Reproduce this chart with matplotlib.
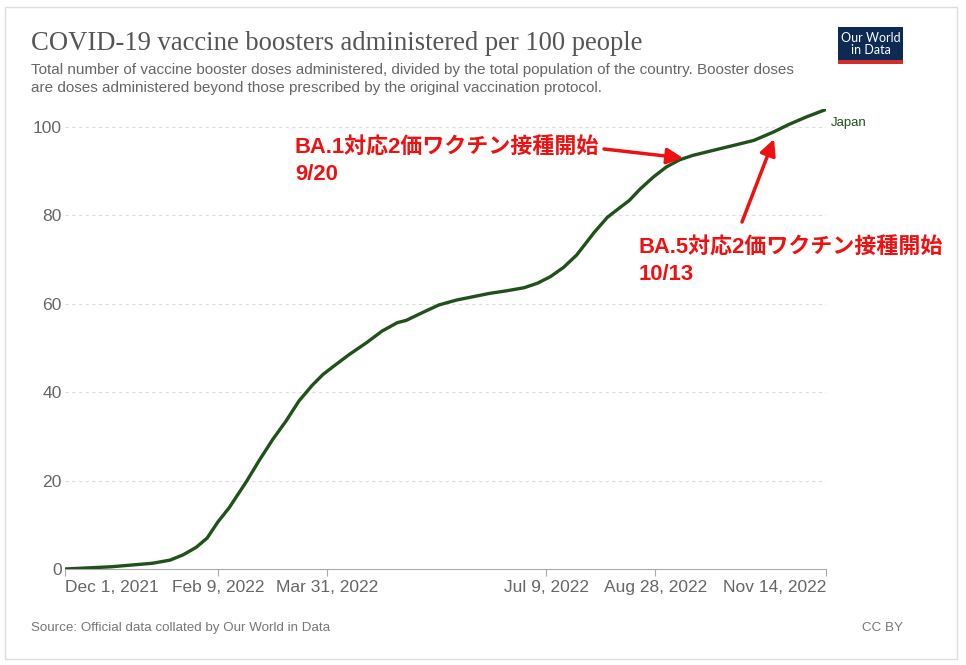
import numpy as np
import pandas as pd
import matplotlib
matplotlib.use("Agg")
import matplotlib.pyplot as plt
from matplotlib.patches import Rectangle

# Booster doses per 100 people, Japan
dates = [
    "2021-12-01", "2021-12-22", "2022-01-10", "2022-01-18", "2022-01-24",
    "2022-01-30", "2022-02-04", "2022-02-09", "2022-02-14", "2022-02-22",
    "2022-02-28", "2022-03-06", "2022-03-12", "2022-03-18", "2022-03-24",
    "2022-03-29", "2022-04-03", "2022-04-10", "2022-04-18", "2022-04-25",
    "2022-05-02", "2022-05-06", "2022-05-14", "2022-05-21", "2022-05-29",
    "2022-06-06", "2022-06-13", "2022-06-21", "2022-06-29", "2022-07-05",
    "2022-07-11", "2022-07-17", "2022-07-23", "2022-07-31", "2022-08-06",
    "2022-08-12", "2022-08-16", "2022-08-21", "2022-08-27", "2022-09-02",
    "2022-09-08", "2022-09-14", "2022-09-23", "2022-10-03", "2022-10-12",
    "2022-10-21", "2022-10-28", "2022-11-05", "2022-11-14",
]
boosters = [
    0.0, 0.5, 1.3, 2.0, 3.2,
    4.9, 7.0, 10.7, 13.8, 19.8,
    24.7, 29.3, 33.4, 38.0, 41.5,
    44.0, 45.9, 48.5, 51.2, 53.8,
    55.7, 56.2, 58.1, 59.7, 60.8,
    61.6, 62.3, 62.9, 63.6, 64.6,
    66.1, 68.2, 71.0, 76.1, 79.5,
    81.8, 83.3, 85.9, 88.6, 90.9,
    92.5, 93.5, 94.6, 95.8, 96.9,
    98.8, 100.5, 102.2, 103.9,
]
tick_dates = ["2021-12-01", "2022-02-09", "2022-03-31", "2022-07-09", "2022-08-28", "2022-11-14"]
tick_labels = ["Dec 1, 2021", "Feb 9, 2022", "Mar 31, 2022", "Jul 9, 2022", "Aug 28, 2022", "Nov 14, 2022"]
y_ticks = [0, 20, 40, 60, 80, 100]

W, H = 966, 665
LINE = "#1f5119"
RED = "#ee1111"
GREY = "#666666"
CJK = ["Liberation Sans", "Noto Sans CJK JP"]


def px(x, y):
    # pixel position (from top-left) -> figure fraction
    return (x / W, 1 - y / H)


fig = plt.figure(figsize=(W / 100, H / 100), dpi=100)
fig.patch.set_facecolor("white")
fig.patches.append(Rectangle(px(5, 659), 952 / W, 652 / H, transform=fig.transFigure,
                             fill=False, edgecolor="#dddddd", linewidth=1))

l, b = px(65, 569)
r, t = px(826, 109)
ax = fig.add_axes([l, b, r - l, t - b])

x = pd.to_datetime(dates)
ax.plot(x, boosters, color=LINE, linewidth=2.4, solid_capstyle="round", zorder=3)

ax.set_xlim(pd.Timestamp(tick_dates[0]), pd.Timestamp(tick_dates[-1]))
ax.set_ylim(0, 104)

ax.set_yticks(y_ticks)
ax.set_yticklabels([str(v) for v in y_ticks], fontsize=12.6, color=GREY, family="Liberation Sans")
ax.tick_params(axis="y", length=0, pad=2.5)
for v in y_ticks[1:]:
    ax.axhline(v, color="#dddddd", linewidth=0.8, linestyle=(0, (3, 3)), zorder=1)

ax.set_xticks(pd.to_datetime(tick_dates))
ax.set_xticklabels(tick_labels, fontsize=12.5, color=GREY, family="Liberation Sans")
ax.tick_params(axis="x", length=5, color="#aaaaaa", width=0.8, pad=11.5)
xl = ax.get_xticklabels()
for lab in xl:
    lab.set_va("baseline")
xl[0].set_ha("left")
xl[-1].set_ha("right")

for s in ["top", "right", "left"]:
    ax.spines[s].set_visible(False)
ax.spines["bottom"].set_color("#aaaaaa")
ax.spines["bottom"].set_linewidth(0.8)

# series label
ax.text(pd.Timestamp(dates[-1]) + pd.Timedelta(days=2), boosters[-1] - 3.0, "Japan",
        fontsize=9.5, color=LINE, family="Liberation Sans", va="center", ha="left", clip_on=False)

# header
fig.text(*px(31, 50), "COVID-19 vaccine boosters administered per 100 people",
         fontsize=19.2, family="Liberation Serif", color="#555555", va="baseline")
fig.text(*px(31, 74), "Total number of vaccine booster doses administered, divided by the total population of the country. Booster doses",
         fontsize=11, family="Liberation Sans", color=GREY, va="baseline")
fig.text(*px(31, 92), "are doses administered beyond those prescribed by the original vaccination protocol.",
         fontsize=11, family="Liberation Sans", color=GREY, va="baseline")

# logo
fig.patches.append(Rectangle(px(838, 60), 65 / W, 33 / H, transform=fig.transFigure,
                             facecolor="#0d2a54", edgecolor="none"))
fig.patches.append(Rectangle(px(838, 64), 65 / W, 4 / H, transform=fig.transFigure,
                             facecolor="#d42b2b", edgecolor="none"))
fig.text(*px(870.5, 43.5), "Our World\nin Data", fontsize=9, family="Lato", color="white",
         ha="center", va="center", linespacing=1.0)

# footer
fig.text(*px(31, 631), "Source: Official data collated by Our World in Data",
         fontsize=9.6, family="Liberation Sans", color="#777777", va="baseline")
fig.text(*px(903, 631), "CC BY", fontsize=9.6, family="Liberation Sans", color="#777777",
         va="baseline", ha="right")

# annotations
arrow = dict(arrowstyle="-|>", color=RED, lw=2.5, mutation_scale=24, shrinkA=0, shrinkB=0)
ann_kw = dict(fontsize=15.8, family=CJK, weight="bold", color=RED, va="baseline")
fig.text(*px(295, 154), "BA.1対応2価ワクチン接種開始", **ann_kw)
fig.text(*px(295, 180), "9/20", **ann_kw)
ax.annotate("", xy=px(683, 158), xycoords="figure fraction",
            xytext=px(604, 149), textcoords="figure fraction", arrowprops=arrow)

fig.text(*px(639, 254), "BA.5対応2価ワクチン接種開始", **ann_kw)
fig.text(*px(639, 280), "10/13", **ann_kw)
ax.annotate("", xy=px(774, 139), xycoords="figure fraction",
            xytext=px(742, 222), textcoords="figure fraction", arrowprops=arrow)

fig.savefig("out.png", dpi=100)
